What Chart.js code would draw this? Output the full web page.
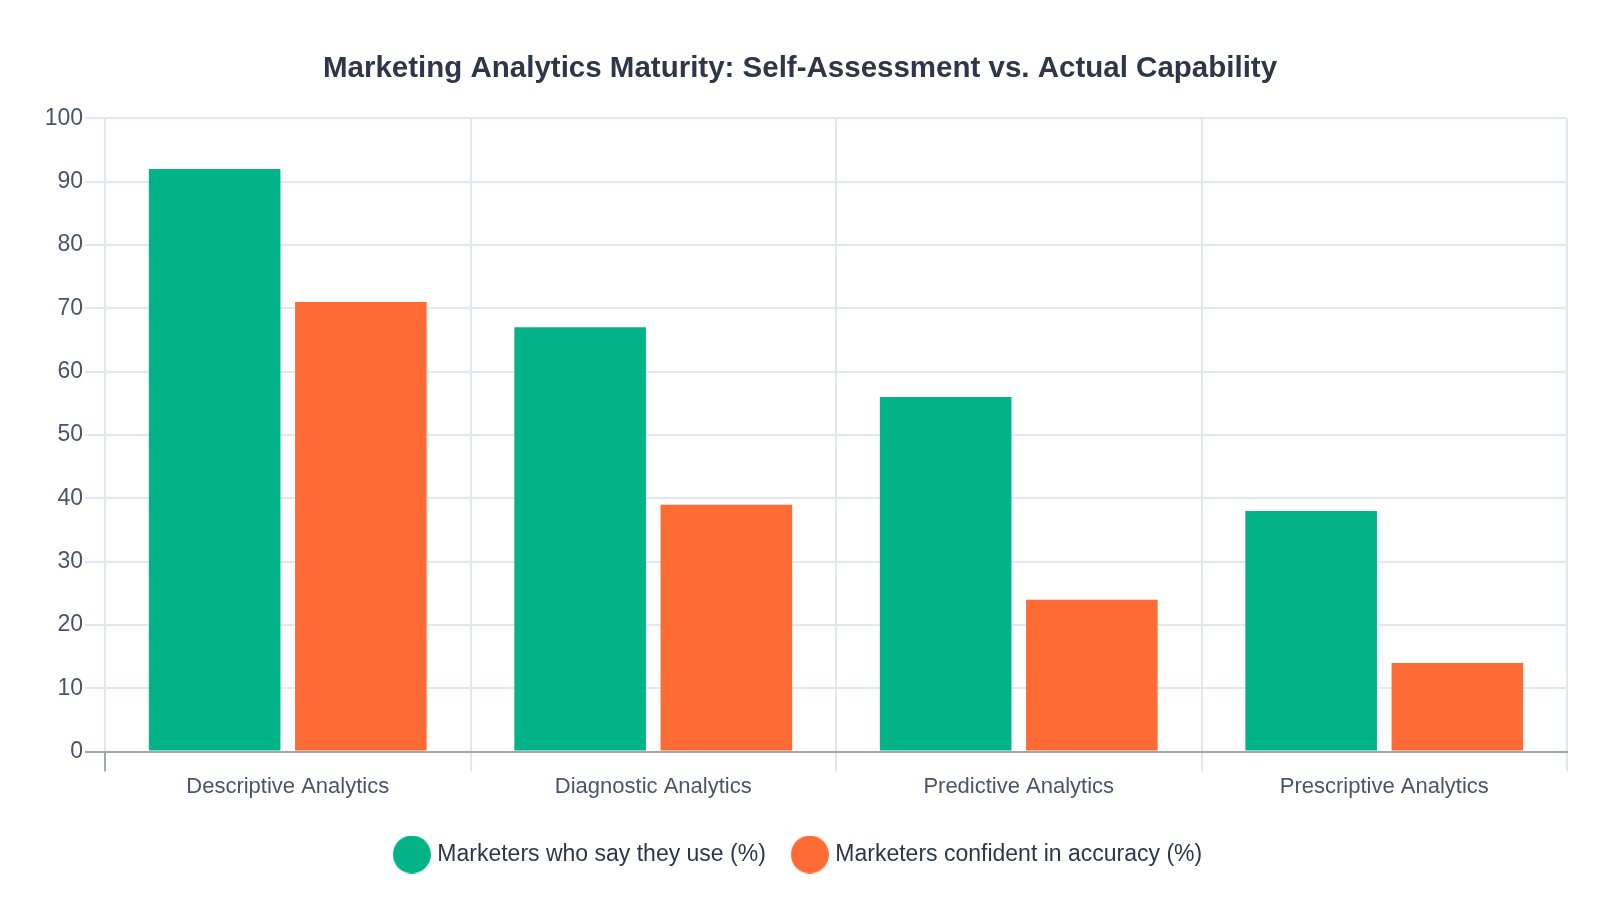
<!DOCTYPE html>
<html>
<head>
<meta charset="utf-8">
<script src="https://cdn.jsdelivr.net/npm/chart.js@4.4.1/dist/chart.umd.min.js"></script>
<style>
  html, body { margin: 0; padding: 0; background: #ffffff; }
  #wrap { position: relative; width: 1600px; height: 900px; }
</style>
</head>
<body>
<div id="wrap"><canvas id="c" width="1600" height="900"></canvas></div>
<script>
const categories = ["Descriptive Analytics", "Diagnostic Analytics", "Predictive Analytics", "Prescriptive Analytics"];
const seriesNames = ["Marketers who say they use (%)", "Marketers confident in accuracy (%)"];
const sayTheyUse = [92, 67, 56, 38];
const confidentInAccuracy = [71, 39, 24, 14];
const yTicks = [0, 10, 20, 30, 40, 50, 60, 70, 80, 90, 100];
const titleText = "Marketing Analytics Maturity: Self-Assessment vs. Actual Capability";

const GREEN = '#02b387';
const ORANGE = '#ff6b35';
const GRID = '#e2e8f0';
const AXIS = '#a3a7ad';
const TEXT_DARK = '#2d3748';
const TEXT_MID = '#4a5568';
const FONT = "'Liberation Sans', Arial, sans-serif";

function circleImage(color, d) {
  const cv = document.createElement('canvas');
  cv.width = d; cv.height = d;
  const g = cv.getContext('2d');
  g.fillStyle = color;
  g.beginPath();
  g.arc(d / 2, d / 2, d / 2, 0, Math.PI * 2);
  g.fill();
  return cv;
}
const markers = [circleImage(GREEN, 38), circleImage(ORANGE, 38)];

new Chart(document.getElementById('c'), {
  type: 'bar',
  data: {
    labels: categories,
    datasets: [
      { label: seriesNames[0], data: sayTheyUse, backgroundColor: GREEN, borderWidth: 0,
        categoryPercentage: 0.8, barPercentage: 0.9 },
      { label: seriesNames[1], data: confidentInAccuracy, backgroundColor: ORANGE, borderWidth: 0,
        categoryPercentage: 0.8, barPercentage: 0.9 }
    ]
  },
  options: {
    responsive: false,
    animation: false,
    devicePixelRatio: 1,
    layout: { padding: { top: 40, right: 33, bottom: 24, left: 33 } },
    plugins: {
      title: {
        display: true,
        text: titleText,
        color: TEXT_DARK,
        font: { family: FONT, size: 29.5, weight: 'bold' },
        padding: { top: 11, bottom: 32 }
      },
      legend: {
        position: 'bottom',
        labels: {
          font: { family: FONT, size: 23 },
          color: TEXT_DARK,
          usePointStyle: true,
          pointStyleWidth: 28,
          padding: 30,
          generateLabels(chart) {
            return chart.data.datasets.map((ds, i) => ({
              text: ds.label,
              fillStyle: ds.backgroundColor,
              strokeStyle: ds.backgroundColor,
              fontColor: TEXT_DARK,
              lineWidth: 0,
              pointStyle: markers[i],
              hidden: !chart.isDatasetVisible(i),
              datasetIndex: i
            }));
          }
        }
      },
      tooltip: { enabled: false }
    },
    scales: {
      x: {
        offset: true,
        afterFit(scale) { scale.height += 11; },
        grid: {
          offset: true,
          color: GRID,
          lineWidth: 2,
          tickLength: 20,
          tickColor: ctx => ctx.index === 0 ? AXIS : GRID
        },
        border: { display: true, color: AXIS, width: 2 },
        ticks: { color: TEXT_MID, font: { family: FONT, size: 22 }, padding: 2 }
      },
      y: {
        min: 0,
        max: 100,
        afterFit(scale) { scale.width = 72; },
        afterBuildTicks(scale) { scale.ticks = yTicks.map(v => ({ value: v })); },
        grid: {
          color: ctx => (ctx.tick && ctx.tick.value === 0) ? AXIS : GRID,
          lineWidth: 2,
          tickLength: 20
        },
        border: { display: false },
        ticks: { color: TEXT_MID, font: { family: FONT, size: 23 }, padding: 2 }
      }
    }
  }
});
</script>
</body>
</html>
